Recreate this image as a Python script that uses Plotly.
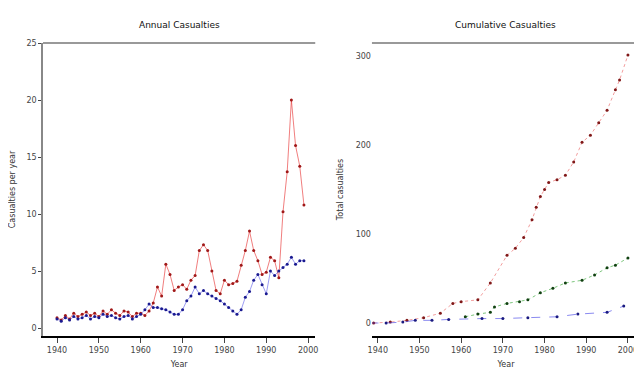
import plotly.graph_objects as go
from plotly.subplots import make_subplots

# ---------------- data ----------------
years = list(range(1940, 2000))

annual_red = [0.9, 0.7, 1.1, 0.8, 1.3, 1.0, 1.2, 1.4, 1.1, 1.3,
              1.0, 1.5, 1.2, 1.6, 1.3, 1.1, 1.5, 1.4, 1.0, 1.3,
              1.3, 1.1, 1.5, 2.2, 3.6, 2.8, 5.6, 4.7, 3.3, 3.6,
              3.8, 3.4, 4.2, 4.6, 6.8, 7.3, 6.8, 5.0, 3.3, 3.0,
              4.2, 3.8, 3.9, 4.1, 5.5, 6.8, 8.5, 6.8, 5.9, 4.7,
              4.9, 6.2, 5.9, 4.4, 10.2, 13.7, 20.0, 16.0, 14.2, 10.8]

annual_blue = [0.8, 0.6, 0.9, 0.7, 1.0, 0.8, 0.9, 1.1, 0.8, 1.0,
               0.9, 1.2, 1.0, 1.1, 0.9, 0.8, 1.0, 1.1, 0.8, 1.0,
               1.2, 1.6, 2.1, 1.8, 1.8, 1.7, 1.6, 1.4, 1.2, 1.2,
               1.6, 2.4, 2.8, 3.6, 3.0, 3.3, 3.0, 2.8, 2.6, 2.4,
               2.1, 1.8, 1.5, 1.2, 1.6, 2.7, 3.2, 4.2, 4.7, 3.8,
               3.0, 5.0, 4.6, 5.0, 5.3, 5.6, 6.2, 5.6, 5.9, 5.9]

cum_red_years = [1939, 1943, 1947, 1951, 1955, 1958, 1960, 1964, 1967, 1971,
                 1973, 1975, 1977, 1978, 1979, 1980, 1981, 1983, 1985, 1987,
                 1989, 1991, 1993, 1995, 1997, 1998, 2000]
cum_red = [0, 1, 3, 6, 11, 22, 24, 26, 45, 76,
           84, 96, 116, 130, 142, 150, 158, 161, 166, 181,
           203, 211, 225, 239, 262, 273, 301]

cum_green_years = [1961, 1964, 1967, 1968, 1971, 1974, 1976, 1979, 1982, 1985,
                   1989, 1992, 1995, 1997, 2000]
cum_green = [7, 10, 12, 18, 22, 24, 26, 34, 39, 45, 48, 54, 62, 65, 73]

cum_blue_years = [1938, 1942, 1946, 1949, 1953, 1957, 1965, 1970, 1976, 1983,
                  1988, 1995, 1999]
cum_blue = [0, 0, 1, 3, 3, 4, 5, 5, 6, 7, 10, 12, 19]

x_ticks = [1940, 1950, 1960, 1970, 1980, 1990, 2000]
left_y_ticks = [0, 5, 10, 15, 20, 25]
right_y_ticks = [0, 100, 200, 300]

titles = ["Annual Casualties", "Cumulative Casualties"]

# ---------------- figure ----------------
fig = make_subplots(rows=1, cols=2, horizontal_spacing=0.095,
                    column_widths=[0.456, 0.449])

def add(x, y, col, line_c, mark_c, dash="solid"):
    fig.add_trace(go.Scatter(x=x, y=y, mode="lines+markers",
                             line=dict(color=line_c, width=1, dash=dash),
                             marker=dict(color=mark_c, size=3),
                             showlegend=False), row=1, col=col)

add(years, annual_red, 1, "rgba(230,40,40,0.6)", "#a01818")
add(years, annual_blue, 1, "rgba(60,60,230,0.5)", "#1a1a90")
add(cum_red_years, cum_red, 2, "rgba(230,60,60,0.5)", "#801818", "dot")
add(cum_green_years, cum_green, 2, "rgba(40,160,40,0.6)", "#104010", "dot")
add(cum_blue_years, cum_blue, 2, "rgba(60,60,230,0.6)", "#1a1a80", "dash")

fig.update_xaxes(tickvals=x_ticks, ticks="outside", ticklen=5,
                 showgrid=False, zeroline=False, automargin=False,
                 showline=True, linecolor="black", linewidth=2,
                 title=dict(text="Year", font=dict(size=8), standoff=8),
                 tickfont=dict(size=8, color="#444"))
fig.update_xaxes(range=[1936.65, 2001.7], row=1, col=1)
fig.update_xaxes(range=[1938.6, 2002.9], row=1, col=2)

fig.update_yaxes(showgrid=False, zeroline=False, automargin=False,
                 tickfont=dict(size=8, color="#444"))
fig.update_yaxes(range=[-0.7, 25], tickvals=left_y_ticks, showline=True,
                 linecolor="#888", linewidth=1.5, ticks="outside", ticklen=3,
                 title=dict(text="Casualties per year", font=dict(size=8), standoff=10),
                 row=1, col=1)
fig.update_yaxes(range=[-14.6, 314.6], tickvals=right_y_ticks, showline=False,
                 title=dict(text="Total casualties", font=dict(size=8), standoff=10),
                 row=1, col=2)

# top border lines and titles
for i, (xref, yref) in enumerate([("x domain", "y domain"), ("x2 domain", "y2 domain")]):
    fig.add_shape(type="line", xref=xref, yref=yref, x0=0, x1=1, y0=1, y1=1,
                  line=dict(color="#777", width=1.5))
    fig.add_annotation(xref=xref, yref=yref, x=0.5, y=1, yshift=18, showarrow=False,
                       yanchor="middle", text=titles[i],
                       font=dict(size=9, color="#111"))

fig.update_layout(width=642, height=375, plot_bgcolor="white", paper_bgcolor="white",
                  margin=dict(l=35, r=10, t=35, b=47),
                  font=dict(family="DejaVu Sans", color="#333"))

fig.write_html("out.html")
